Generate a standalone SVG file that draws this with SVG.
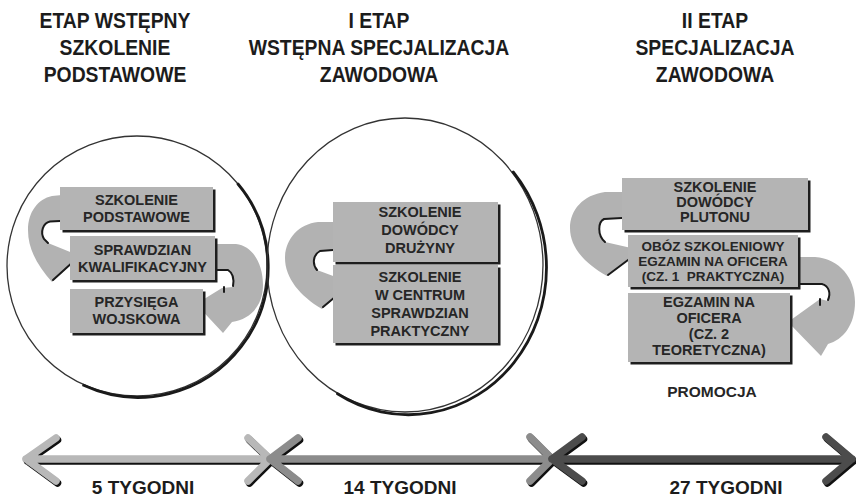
<svg xmlns="http://www.w3.org/2000/svg" width="856" height="497" viewBox="0 0 856 497">
  <style>
    .title { font-family: "Liberation Sans", Arial, sans-serif; font-weight: bold; font-size: 22px; fill: #1c1c1c; text-anchor: middle; }
    .lbl { font-family: "Liberation Sans", Arial, sans-serif; font-weight: bold; font-size: 14.5px; fill: #262626; text-anchor: middle; }
    .lbl-sm { font-size: 13.5px; }
    .dur { font-family: "Liberation Sans", Arial, sans-serif; font-weight: bold; font-size: 19px; fill: #1c1c1c; text-anchor: middle; }
    .box { fill: #b4b4b4; }
    .shadow { fill: #1e1e1e; }
    .band { fill: #b2b2b2; }
    .edge { fill: none; stroke: #1a1a1a; stroke-width: 2; stroke-linecap: round; }
    .ring { fill: none; stroke: #333; stroke-width: 1.3; }
    .ringShade { fill: none; stroke: #1a1a1a; stroke-width: 2.8; stroke-linecap: round; }
    .tl { fill: none; stroke-width: 7.5; stroke-linecap: round; stroke-linejoin: round; }
    .tlShadow { fill: none; stroke: #111; stroke-width: 7.5; stroke-linecap: round; stroke-linejoin: round; }
  </style>

  <rect width="856" height="497" fill="#fff"/>

  <!-- stage headings (slightly condensed bold) -->
  <g id="headings">
    <g transform="translate(115,0) scale(0.88,1)">
      <text class="title" x="0" y="28">ETAP WSTĘPNY</text>
      <text class="title" x="0" y="55">SZKOLENIE</text>
      <text class="title" x="0" y="82">PODSTAWOWE</text>
    </g>
    <g transform="translate(379,0) scale(0.88,1)">
      <text class="title" x="0" y="28">I ETAP</text>
      <text class="title" x="0" y="55">WSTĘPNA SPECJALIZACJA</text>
      <text class="title" x="0" y="82">ZAWODOWA</text>
    </g>
    <g transform="translate(715,0) scale(0.88,1)">
      <text class="title" x="0" y="28">II ETAP</text>
      <text class="title" x="0" y="55">SPECJALIZACJA</text>
      <text class="title" x="0" y="82">ZAWODOWA</text>
    </g>
  </g>

  <!-- stage rings with a heavier lower-right edge -->
  <g id="rings">
    <circle class="ring" cx="137" cy="266" r="130"/>
    <path class="ringShade" d="M 238 184 A 130 130 0 0 1 83.6 385.3"/>
    <ellipse class="ring" cx="405" cy="265" rx="138" ry="147"/>
    <path class="ringShade" d="M 513.2 172 A 138 147 0 0 1 337.5 393.8"/>
  </g>

  <!-- curved flow arrows between steps -->
  <g id="connectors">
    <!-- stage 0: A -> B -->
    <path class="band" d="M 62 195 L 52 196 C 38 199 28 212 28 230 C 28 250 38 266 52 282 L 80 256 L 48 243 C 42 238 40 229 44 225 C 47 222 52 221 62 221 Z"/>
    <path class="edge" d="M 60 221 L 50 221.5 C 43 223 40 232 44 239 L 48 243"/>
    <path class="edge" d="M 53 280 L 74 261"/>
    <!-- stage 0: B -> C -->
    <path class="band" d="M 210 244 L 236 244 C 253 246 263 264 263 285 C 263 305 251 319 232 322 L 223 333 L 196 304 L 222 288 L 233 287 C 235 280 234 272 228 270 L 210 270 Z"/>
    <path class="edge" d="M 216 270 L 228 270 C 233 273 234 280 233 286"/>
    <path class="edge" d="M 224 287 L 224 292"/>
    <!-- stage I: D -> E -->
    <path class="band" d="M 340 222 L 318 222 C 298 224 285 240 285 258 C 285 278 300 296 322 309 L 352 283 L 317 270 C 312 265 312 257 318 253 C 322 250 328 250 340 250 Z"/>
    <path class="edge" d="M 333 250 L 320 251 C 313 255 312 264 317 270"/>
    <path class="edge" d="M 323 307 L 347 287"/>
    <!-- stage II: F -> G -->
    <path class="band" d="M 630 192 L 605 192 C 583 195 570 210 570 228 C 570 247 584 263 607 276 L 640 250 L 605 242 C 598 237 597 227 601 222 C 605 219 612 218 630 218 Z"/>
    <path class="edge" d="M 622 218 L 604 219 C 598 222 597 235 605 242"/>
    <path class="edge" d="M 608 275 L 632 257"/>
    <!-- stage II: G -> H -->
    <path class="band" d="M 795 257 L 815 257 C 840 259 855 278 855 302 C 855 325 843 340 828 344 L 821 356 L 788 322 L 820 299 L 828 301 C 832 292 830 285 822 283 L 795 283 Z"/>
    <path class="edge" d="M 799 284 L 822 284 C 829 286 831 293 828 300"/>
    <path class="edge" d="M 820 299 L 820 305"/>
  </g>

  <!-- steps -->
  <g id="node-szkolenie-podstawowe">
    <rect class="shadow" x="62.5" y="189.5" width="153" height="43"/>
    <rect class="box" x="60" y="187" width="153" height="43"/>
    <text class="lbl" x="136.5" y="205">SZKOLENIE</text>
    <text class="lbl" x="136.5" y="221.5">PODSTAWOWE</text>
  </g>
  <g id="node-sprawdzian">
    <rect class="shadow" x="72.5" y="238.5" width="145" height="44"/>
    <rect class="box" x="70" y="236" width="145" height="44"/>
    <text class="lbl" x="142.5" y="254.5">SPRAWDZIAN</text>
    <text class="lbl" x="142.5" y="272">KWALIFIKACYJNY</text>
  </g>
  <g id="node-przysiega">
    <rect class="shadow" x="72.5" y="291.5" width="133" height="44"/>
    <rect class="box" x="70" y="289" width="133" height="44"/>
    <text class="lbl" x="136.5" y="307">PRZYSIĘGA</text>
    <text class="lbl" x="136.5" y="324">WOJSKOWA</text>
  </g>

  <g id="node-dowodca-druzyny">
    <rect class="shadow" x="335.5" y="204.5" width="165" height="60"/>
    <rect class="box" x="333" y="202" width="165" height="60"/>
    <text class="lbl" x="420" y="217">SZKOLENIE</text>
    <text class="lbl" x="420" y="235">DOWÓDCY</text>
    <text class="lbl" x="420" y="253">DRUŻYNY</text>
  </g>
  <g id="node-centrum">
    <rect class="shadow" x="335.5" y="267.5" width="165" height="78"/>
    <rect class="box" x="333" y="265" width="165" height="78"/>
    <text class="lbl" x="420" y="282">SZKOLENIE</text>
    <text class="lbl" x="420" y="300">W CENTRUM</text>
    <text class="lbl" x="420" y="318">SPRAWDZIAN</text>
    <text class="lbl" x="420" y="335.5">PRAKTYCZNY</text>
  </g>

  <g id="node-dowodca-plutonu">
    <rect class="shadow" x="624.5" y="180.5" width="186" height="52"/>
    <rect class="box" x="622" y="178" width="186" height="52"/>
    <text class="lbl" x="715" y="192">SZKOLENIE</text>
    <text class="lbl" x="715" y="207">DOWÓDCY</text>
    <text class="lbl" x="715" y="222">PLUTONU</text>
  </g>
  <g id="node-oboz">
    <rect class="shadow" x="630.5" y="237.5" width="170" height="52"/>
    <rect class="box" x="628" y="235" width="170" height="52"/>
    <text class="lbl lbl-sm" x="713" y="250.5">OBÓZ SZKOLENIOWY</text>
    <text class="lbl lbl-sm" x="713" y="265.5">EGZAMIN NA OFICERA</text>
    <text class="lbl lbl-sm" x="713" y="280.5">(CZ. 1&#160; PRAKTYCZNA)</text>
  </g>
  <g id="node-egzamin">
    <rect class="shadow" x="630.5" y="295.5" width="162" height="69"/>
    <rect class="box" x="628" y="293" width="162" height="69"/>
    <text class="lbl" x="709" y="307">EGZAMIN NA</text>
    <text class="lbl" x="709" y="323">OFICERA</text>
    <text class="lbl" x="709" y="339">(CZ. 2</text>
    <text class="lbl" x="709" y="355">TEORETYCZNA)</text>
  </g>
  <g id="node-promocja">
    <text class="lbl" x="712" y="397" style="font-size:15.5px">PROMOCJA</text>
  </g>

  <!-- time scale -->
  <g id="timeline">
    <g transform="translate(1.5,2)">
      <path class="tlShadow" d="M 56 438 L 26 459 L 56 481 M 26 459 L 270 459 M 248 438 L 270 459 L 248 481"/>
      <path class="tlShadow" d="M 298 438 L 270 459 L 298 481 M 270 459 L 552 459 M 530 437 L 552 459 L 530 481"/>
      <path class="tlShadow" d="M 582 437 L 552 459 L 582 481 M 552 459 L 852 459 M 826 437 L 852 459 L 826 481"/>
    </g>
    <path class="tl" stroke="#b8b8b8" d="M 56 438 L 26 459 L 56 481 M 26 459 L 270 459 M 248 438 L 270 459 L 248 481"/>
    <path class="tl" stroke="#8c8c8c" d="M 298 438 L 270 459 L 298 481 M 270 459 L 552 459 M 530 437 L 552 459 L 530 481"/>
    <path class="tl" stroke="#4c4c4c" d="M 582 437 L 552 459 L 582 481 M 552 459 L 852 459 M 826 437 L 852 459 L 826 481"/>
    <text class="dur" x="143" y="494">5 TYGODNI</text>
    <text class="dur" x="400" y="494">14 TYGODNI</text>
    <text class="dur" x="726" y="494">27 TYGODNI</text>
  </g>
</svg>
